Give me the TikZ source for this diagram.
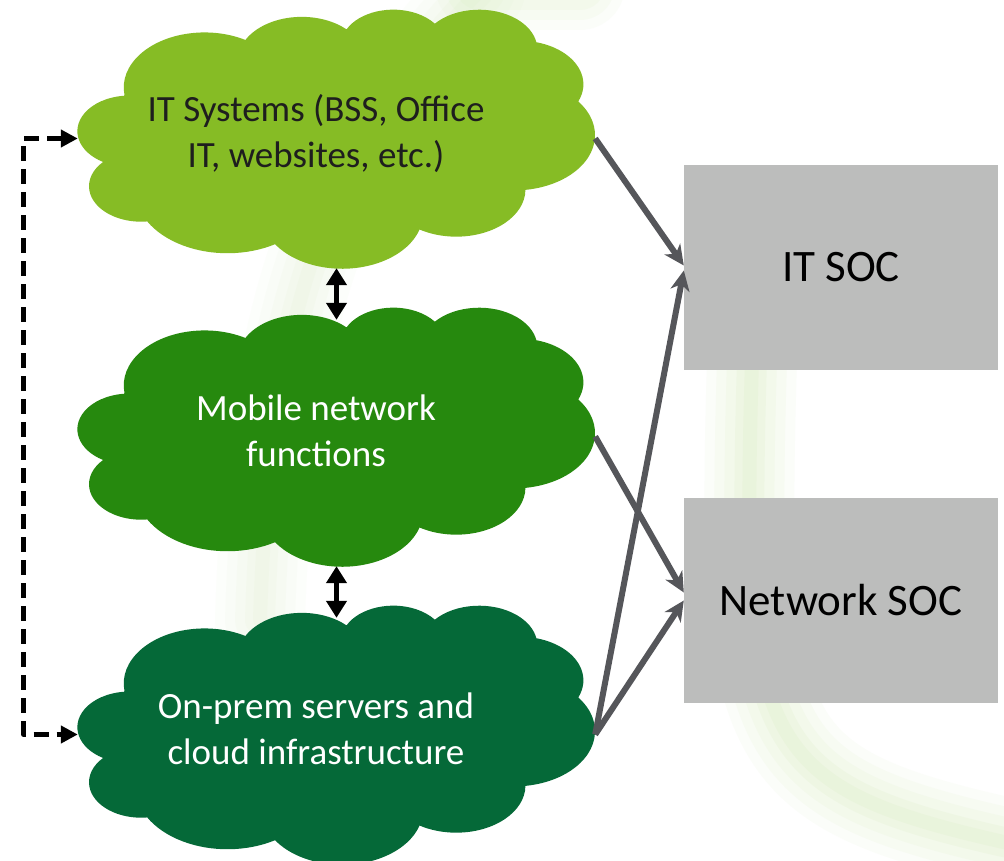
\documentclass[tikz,border=0pt]{standalone}
\usepackage{fontspec}
\setmainfont{Carlito}
\usetikzlibrary{arrows.meta}

\definecolor{itgreen}{RGB}{134,188,37}
\definecolor{mobgreen}{RGB}{38,137,14}
\definecolor{infgreen}{RGB}{5,105,56}
\definecolor{socgray}{RGB}{188,189,188}
\definecolor{linkgray}{RGB}{85,86,90}
\definecolor{swoosh}{RGB}{196,228,160}

% elliptical arc given by radii and start/sweep angles measured from the centre
\newcommand\pptarc[4]{%
  \pgfmathsetmacro\arcA{atan2((#1)*sin(#3),(#2)*cos(#3))}%
  \pgfmathsetmacro\arcB{atan2((#1)*sin((#3)+(#4)),(#2)*cos((#3)+(#4)))}%
  \pgfmathsetmacro\arcB{(#4)>0 ? (\arcB<\arcA ? \arcB+360 : \arcB) : (\arcB>\arcA ? \arcB-360 : \arcB)}%
}
\newcommand\puff[4]{\pgfextra{\pptarc{#1}{#2}{#3}{#4}} arc[start angle=\arcA, end angle=\arcB, x radius=#1, y radius=#2]}

% cloud outline filling the frame of node #2 (outline laid out on a 43.2 x 43.2 grid)
\newcommand\cloudfill[2]{%
  \begin{scope}[shift={(#2.north west)}, xscale=517/43.2, yscale=259/43.2]
    \fill[#1] (3.900,14.370)
      \puff{6.753}{9.190}{-190.487}{123.781}
      \puff{5.333}{7.267}{-144.102}{89.945}
      \puff{4.365}{5.945}{-145.808}{99.723}
      \puff{4.857}{6.595}{-130.986}{117.242}
      \puff{5.333}{7.273}{-78.709}{109.027}
      \puff{6.775}{9.220}{-46.267}{130.269}
      \puff{5.785}{7.867}{0.625}{114.033}
      \puff{6.752}{9.215}{22.452}{115.173}
      \puff{7.720}{10.543}{66.243}{75.711}
      \puff{4.360}{5.918}{-274.942}{146.736}
      \puff{4.345}{5.945}{-246.829}{152.519}
      -- cycle;
  \end{scope}}

\tikzset{
  frame/.style={rectangle, minimum width=517pt, minimum height=259pt, inner sep=0pt},
  cloudtext/.style={align=center, font=\fontsize{37}{46}\selectfont, inner sep=0pt},
  socbox/.style={rectangle, fill=socgray, minimum width=314pt, minimum height=205pt,
    inner sep=0pt, font=\fontsize{45}{54}\selectfont},
  feed/.style={draw=linkgray, line width=6pt,
    -{Stealth[length=20pt, width=19pt, inset=6pt]}},
  peer/.style={draw=black, line width=5pt, shorten >=-13pt,
    {Triangle[length=17pt, width=20pt]}-{Triangle[length=17pt, width=20pt]}},
  loopback/.style={draw=black, line width=5pt, dash pattern=on 15pt off 8pt,
    line join=round, {Triangle[length=17pt, width=17pt]}-{Triangle[length=17pt, width=17pt]}},
  band/.style={draw=swoosh, line cap=round}
}

\begin{document}
\begin{tikzpicture}[x=1pt, y=-1pt]
  \useasboundingbox (0,0) rectangle (1004,861);
  \fill[white] (0,0) rectangle (1004,861);

  % soft decorative swoosh in the background
  \begin{scope}
    \clip (0,0) rectangle (1004,861);
    \foreach \w/\o in {90/0.06, 70/0.07, 50/0.08, 30/0.1, 14/0.1} {
      \draw[band, line width=\w pt, opacity=\o]
        (752,360) .. controls (740,760) and (760,790) .. (1040,850);
      \draw[band, line width=\w pt, opacity=\o]
        (480,-15) -- (580,-15);
      \draw[band, line width=\w pt, opacity=0.6*\o]
        (480,-10) .. controls (330,150) and (270,300) .. (260,620);
    }
  \end{scope}

  % cloud frames and outlines
  \node[frame] (it)     at (336.5,138.5) {};
  \node[frame] (mobile) at (336.5,436.5) {};
  \node[frame] (onprem) at (336.5,734.5) {};
  \cloudfill{itgreen}{it}
  \cloudfill{mobgreen}{mobile}
  \cloudfill{infgreen}{onprem}

  \node[cloudtext, text={rgb,255:red,30;green,30;blue,30}] (ittext) at (316,134)
    {IT Systems (BSS, Office\\IT, websites, etc.)};
  \node[cloudtext, text=white] (mobtext) at (316,431)
    {Mobile network\\functions};
  \node[cloudtext, text=white] (inftext) at (316,729)
    {On-prem servers and\\cloud infrastructure};

  % security operations centres
  \node[socbox] (itsoc)  at (841,267.5) {IT SOC};
  \node[socbox] (netsoc) at (841,600.5) {Network SOC};

  % feeds into the SOCs
  \draw[feed] (it.east)     -- ([yshift=2pt]itsoc.west);
  \draw[feed] (onprem.east) -- ([yshift=-3pt]itsoc.west);
  \draw[feed] (mobile.east) -- ([yshift=8pt]netsoc.west);
  \draw[feed] (onprem.east) -- (netsoc.west);

  % links between the clouds
  \draw[peer] (it.south) -- (mobile.north);
  \draw[peer] (mobile.south) -- (onprem.north);
  \draw[loopback] (it.west) -- ++(-54,0) |- (onprem.west);
\end{tikzpicture}
\end{document}
